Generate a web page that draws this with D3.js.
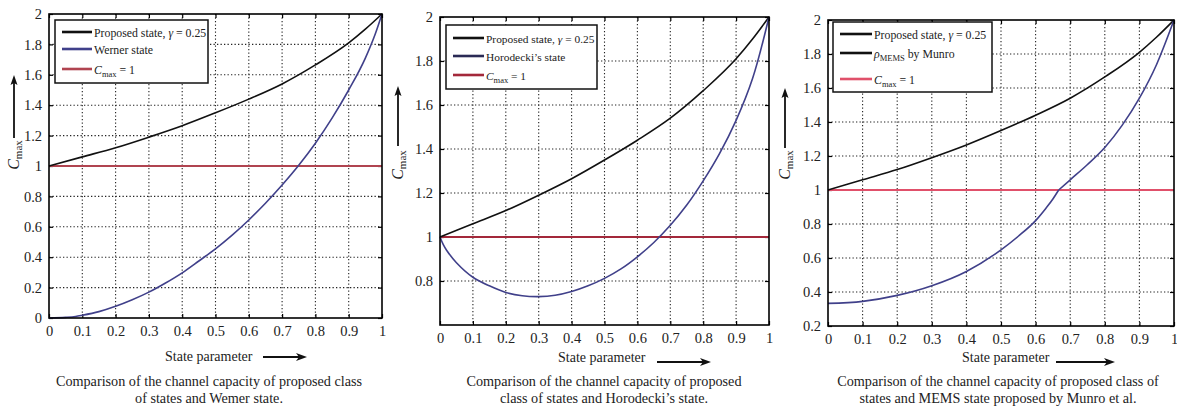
<!DOCTYPE html>
<html><head><meta charset="utf-8">
<script src="https://cdn.jsdelivr.net/npm/d3@7"></script>
<style>
body{margin:0;background:#fff;}
svg, svg text{font-family:"Liberation Serif","Times New Roman",Tinos,"DejaVu Serif",serif;}
</style></head>
<body><svg id="c" width="1177" height="408"></svg>
<script>
// ---- data ----
const xTicks = [0,0.1,0.2,0.3,0.4,0.5,0.6,0.7,0.8,0.9,1];
const xTickLabels = ["0","0.1","0.2","0.3","0.4","0.5","0.6","0.7","0.8","0.9","1"];
const proposedX = [0,0.1,0.2,0.3,0.4,0.5,0.6,0.7,0.8,0.9,0.95,1];
const proposedY = [1.0,1.06,1.12,1.19,1.265,1.35,1.44,1.54,1.665,1.81,1.9,2.0];
const wernerX = [0,0.05,0.08,0.1,0.15,0.2,0.25,0.3,0.35,0.4,0.45,0.5,0.55,0.6,0.65,0.7,0.75,0.8,0.85,0.9,0.95,0.98,1];
const wernerY = [0,0.004,0.01,0.018,0.042,0.077,0.12,0.17,0.23,0.297,0.375,0.455,0.545,0.645,0.755,0.875,1.005,1.15,1.315,1.5,1.71,1.87,2.0];
const horoX = [0,0.01,0.02,0.05,0.1,0.15,0.2,0.25,0.3,0.35,0.4,0.45,0.5,0.55,0.6,0.65,0.7,0.75,0.8,0.85,0.9,0.95,1];
const horoY = [1.0,0.965,0.94,0.883,0.817,0.778,0.748,0.733,0.729,0.735,0.752,0.778,0.812,0.855,0.91,0.975,1.053,1.145,1.255,1.38,1.53,1.72,2.0];
const memsX = [0,0.1,0.2,0.3,0.4,0.5,0.55,0.6,0.63,0.65,0.6667,0.7,0.75,0.8,0.85,0.9,0.95,1];
const memsY = [0.333,0.345,0.38,0.437,0.521,0.648,0.728,0.82,0.893,0.947,1.0,1.06,1.15,1.25,1.38,1.54,1.74,2.0];
const memsKink = 10;
const cmaxY = [1,1];
const yTicks1 = [0,0.2,0.4,0.6,0.8,1,1.2,1.4,1.6,1.8,2];
const yTicks2 = [0.8,1,1.2,1.4,1.6,1.8,2];
const yTicks3 = [0.2,0.4,0.6,0.8,1,1.2,1.4,1.6,1.8,2];
const captions1 = ["Comparison of the channel capacity of proposed class","of states and Wemer state."];
const captions2 = ["Comparison of the channel capacity of proposed","class of states and Horodecki\u2019s state."];
const captions3 = ["Comparison of the channel capacity of proposed class of","states and MEMS state proposed by Munro et al."];

const svg = d3.select("#c");
const fs = 14.5;

function panel(cfg){
  const g = svg.append("g");
  const x = d3.scaleLinear().domain([0,1]).range([cfg.l, cfg.r]);
  const y = d3.scaleLinear().domain(cfg.yDom).range([cfg.b, cfg.t]);
  // grid
  const grid = g.append("g").attr("stroke","#222").attr("stroke-width",1.1).attr("stroke-dasharray","1.3,2.2");
  grid.selectAll(".gx").data(xTicks.slice(1,-1)).join("line")
    .attr("x1",d=>x(d)).attr("x2",d=>x(d)).attr("y1",cfg.t).attr("y2",cfg.b);
  grid.selectAll(".gy").data(cfg.yTicks.filter(v=>v>cfg.yDom[0]&&v<cfg.yDom[1])).join("line")
    .attr("y1",d=>y(d)).attr("y2",d=>y(d)).attr("x1",cfg.l).attr("x2",cfg.r);
  // axes (inward ticks)
  const axB = d3.axisBottom(x).tickValues(xTicks).tickFormat((d,i)=>xTickLabels[i]).tickSizeInner(-4).tickSizeOuter(0).tickPadding(8);
  const axT = d3.axisTop(x).tickValues(xTicks).tickFormat("").tickSizeInner(-4).tickSizeOuter(0);
  const axL = d3.axisLeft(y).tickValues(cfg.yTicks).tickFormat(d=>String(+d.toFixed(1))).tickSizeInner(-4).tickSizeOuter(0).tickPadding(7);
  const axR = d3.axisRight(y).tickValues(cfg.yTicks).tickFormat("").tickSizeInner(-4).tickSizeOuter(0);
  [[axB,`translate(0,${cfg.b})`],[axT,`translate(0,${cfg.t})`],[axL,`translate(${cfg.l},0)`],[axR,`translate(${cfg.r},0)`]].forEach(([a,tr])=>{
    const ag = g.append("g").attr("transform",tr).call(a);
    ag.attr("font-family",null);
    ag.select(".domain").remove();
    ag.selectAll("line").attr("stroke","#000").attr("stroke-width",1.2);
    ag.selectAll("text").attr("font-size",fs).attr("fill","#222");
  });
  // lines
  const line = (xs,c)=>d3.line().x((d,i)=>x(xs[i])).y(d=>y(d)).curve(c||d3.curveMonotoneX);
  g.append("path").attr("d",d3.line().x((d,i)=>x([0,1][i])).y(d=>y(d))(cmaxY))
    .attr("fill","none").attr("stroke",cfg.red).attr("stroke-width",2.2);
  g.append("path").attr("d",line(proposedX)(proposedY)).attr("fill","none").attr("stroke","#111").attr("stroke-width",1.6);
  const segs = cfg.kink ? [[0,cfg.kink+1],[cfg.kink,cfg.sx.length]] : [[0,cfg.sx.length]];
  segs.forEach(([a,b])=>{
    g.append("path").attr("d",line(cfg.sx.slice(a,b),cfg.curve)(cfg.sy.slice(a,b))).attr("fill","none").attr("stroke","#40408a").attr("stroke-width",1.6);
  });
  // frame
  g.append("rect").attr("x",cfg.l).attr("y",cfg.t).attr("width",cfg.r-cfg.l).attr("height",cfg.b-cfg.t)
    .attr("fill","none").attr("stroke","#000").attr("stroke-width",1.6);
  // legend
  const L = cfg.leg;
  g.append("rect").attr("x",L.x).attr("y",L.y).attr("width",L.w).attr("height",L.h)
    .attr("fill","#fff").attr("stroke","#111").attr("stroke-width",1.5);
  const lc = [ "#111", cfg.legLine2, cfg.red];
  L.rows.forEach((ry,i)=>{
    g.append("line").attr("x1",L.lx1).attr("x2",L.lx2).attr("y1",ry).attr("y2",ry)
      .attr("stroke",lc[i]).attr("stroke-width",2.6);
  });
  const tx = L.lx2+2;
  const lfs = L.fs;
  const t1 = g.append("text").attr("x",tx).attr("y",L.rows[0]+4.5).attr("font-size",lfs).attr("fill","#222");
  t1.append("tspan").text("Proposed state, ");
  t1.append("tspan").attr("font-style","italic").text("\u03b3");
  t1.append("tspan").text(" = 0.25");
  const t2 = g.append("text").attr("x",tx).attr("y",L.rows[1]+4.5).attr("font-size",lfs).attr("fill","#222");
  if(cfg.name2==="mems"){
    t2.append("tspan").attr("font-style","italic").text("\u03c1");
    t2.append("tspan").attr("font-size",8.5).attr("dy",3).text("MEMS");
    t2.append("tspan").attr("dy",-3).text(" by Munro");
  } else t2.text(cfg.name2);
  const t3 = g.append("text").attr("x",tx).attr("y",L.rows[2]+4.5).attr("font-size",lfs).attr("fill","#222");
  t3.append("tspan").attr("font-style","italic").text("C");
  t3.append("tspan").attr("font-size",8.5).attr("dy",3).text("max");
  t3.append("tspan").attr("dy",-3).text(" = 1");
  // y label
  const yl = g.append("text").attr("transform",`translate(${cfg.ylx+5},${cfg.ylc}) rotate(-90)`)
    .attr("text-anchor","middle").attr("font-size",16).attr("fill","#222");
  yl.append("tspan").attr("font-style","italic").text("C");
  yl.append("tspan").attr("font-size",11).attr("dy",3).text("max");
  g.append("line").attr("x1",cfg.ylx).attr("x2",cfg.ylx).attr("y1",cfg.ya[1]).attr("y2",cfg.ya[0]+6)
    .attr("stroke","#111").attr("stroke-width",1.8);
  g.append("path").attr("d",`M${cfg.ylx},${cfg.ya[0]} L${cfg.ylx-3.5},${cfg.ya[0]+10} L${cfg.ylx},${cfg.ya[0]+8} L${cfg.ylx+3.5},${cfg.ya[0]+10} Z`).attr("fill","#111");
  // x label
  g.append("text").attr("x",cfg.xlx).attr("y",cfg.xly).attr("font-size",14).attr("fill","#222").text("State parameter");
  g.append("line").attr("x1",cfg.xa[0]).attr("x2",cfg.xa[1]-6).attr("y1",cfg.xay).attr("y2",cfg.xay)
    .attr("stroke","#111").attr("stroke-width",2.2);
  g.append("path").attr("d",`M${cfg.xa[1]},${cfg.xay} L${cfg.xa[1]-11},${cfg.xay-4} L${cfg.xa[1]-8},${cfg.xay} L${cfg.xa[1]-11},${cfg.xay+4} Z`).attr("fill","#111");
  // caption
  cfg.cap.forEach((c,i)=>{
    g.append("text").attr("x",cfg.capx).attr("y",386+i*17).attr("text-anchor","middle")
      .attr("font-size",14.2).attr("fill","#222").text(c);
  });
}

panel({l:49,r:382,t:14,b:318,yDom:[0,2],yTicks:yTicks1,sx:wernerX,sy:wernerY,red:"#b04450",legLine2:"#40408a",
  name2:"Werner state",
  leg:{x:55,y:20,w:153,h:63,lx1:62,lx2:92,rows:[32,49,69],fs:11.8},
  ylx:14,ylc:155,ya:[75,138],xlx:165,xly:361,xa:[263,307],xay:357,cap:captions1,capx:209});
panel({l:440,r:769,t:17,b:325,yDom:[0.6,2],yTicks:yTicks2,sx:horoX,sy:horoY,curve:d3.curveCatmullRom.alpha(0.5),red:"#a3283a",legLine2:"#2a2a55",
  name2:"Horodecki\u2019s state",
  leg:{x:446,y:25,w:151,h:64,lx1:453,lx2:484,rows:[38,56,75],fs:11.4},
  ylx:398,ylc:165,ya:[86,146],xlx:558,xly:362,xa:[657,711],xay:362,cap:captions2,capx:604});
panel({l:828,r:1174,t:20,b:326,yDom:[0.2,2],yTicks:yTicks3,sx:memsX,sy:memsY,kink:memsKink,red:"#e0506a",legLine2:"#111",
  name2:"mems",
  leg:{x:833,y:22,w:159,h:70,lx1:840,lx2:872,rows:[34,53,79],fs:11.8},
  ylx:785,ylc:165,ya:[88,148],xlx:962,xly:362,xa:[1056,1115],xay:362,cap:captions3,capx:998});
</script></body></html>
